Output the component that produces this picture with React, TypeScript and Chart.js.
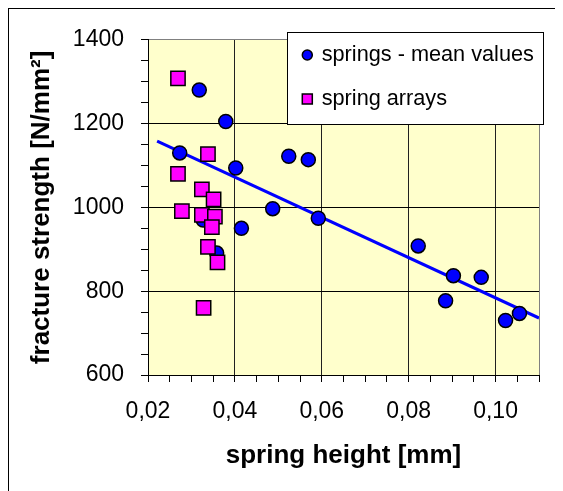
import React, { useEffect, useRef } from 'react';
import { Chart, registerables } from 'chart.js';

Chart.register(...registerables);

// ---- data ----
const meanX = [0.0318, 0.0379, 0.0273, 0.0402, 0.0524, 0.0569, 0.0487, 0.0592, 0.0415, 0.0327, 0.0358, 0.0822, 0.0903, 0.0967, 0.0885, 0.1023, 0.1055];
const meanY = [1280, 1205, 1130, 1094, 1122, 1114, 997, 974, 950, 970, 891, 908, 837, 833, 777, 730, 747];
const arrayX = [0.0269, 0.0338, 0.0269, 0.0324, 0.0351, 0.0278, 0.0324, 0.0354, 0.0347, 0.0338, 0.0360, 0.0328];
const arrayY = [1308, 1127, 1080, 1043, 1019, 991, 982, 978, 953, 906, 869, 760];
const trendX = [0.0221, 0.11];
const trendY = [1158, 736];

const seriesLabels = ['springs - mean values', 'spring arrays'];
const xTitle = 'spring height [mm]';
const yTitle = 'fracture strength [N/mm²]';

const xMin = 0.02, xMax = 0.11, xMajor = 0.02, xMinor = 0.005;
const yMin = 600, yMax = 1400, yMajor = 200, yMinor = 50;

const FONT = "'Liberation Sans', Arial, sans-serif";

const isMajor = (v: number, step: number) => Math.abs(v / step - Math.round(v / step)) < 1e-6;
const near = (a: number, b: number) => Math.abs(a - b) < 1e-9 * Math.max(1, Math.abs(b));

const bgPlugin = {
  id: 'plotBg',
  beforeDraw(chart: any) {
    const { ctx, chartArea: a } = chart;
    ctx.save();
    ctx.fillStyle = '#FFFFCC';
    ctx.fillRect(a.left, a.top, a.right - a.left, a.bottom - a.top);
    ctx.restore();
  },
};

const legendPlugin = {
  id: 'boxLegend',
  afterDraw(chart: any) {
    const ctx = chart.ctx;
    ctx.save();
    const x0 = 278.5, y0 = 23.5, w = 256, h = 92;
    ctx.fillStyle = '#FFFFFF';
    ctx.fillRect(x0, y0, w, h);
    ctx.strokeStyle = '#000000';
    ctx.lineWidth = 1;
    ctx.strokeRect(x0, y0, w, h);
    const mx = 298.3;
    const rows = [46, 90];
    const ds0 = chart.data.datasets[1];
    const ds1 = chart.data.datasets[0];
    // circle marker
    ctx.beginPath();
    ctx.arc(mx, rows[0], 5, 0, Math.PI * 2);
    ctx.fillStyle = ds0.backgroundColor;
    ctx.fill();
    ctx.lineWidth = 1.5;
    ctx.strokeStyle = '#000';
    ctx.stroke();
    // square marker
    ctx.beginPath();
    ctx.rect(mx - 5, rows[1] - 5, 10, 10);
    ctx.fillStyle = ds1.backgroundColor;
    ctx.fill();
    ctx.stroke();
    ctx.fillStyle = '#000';
    ctx.font = `21.7px ${FONT}`;
    ctx.textBaseline = 'middle';
    ctx.textAlign = 'left';
    ctx.fillText(ds0.label, 312.7, rows[0]);
    ctx.fillText(ds1.label, 312.7, rows[1]);
    ctx.restore();
  },
};

export default function App() {
  const ref = useRef<HTMLCanvasElement | null>(null);

  useEffect(() => {
    document.documentElement.style.overflow = 'hidden';
    document.body.style.overflow = 'hidden';
    const canvas = ref.current;
    if (!canvas) return;

    const chart = new Chart(canvas, {
      type: 'scatter',
      data: {
        datasets: [
          {
            label: seriesLabels[1],
            data: arrayX.map((x, i) => ({ x, y: arrayY[i] })),
            backgroundColor: '#FF00FF',
            borderColor: '#000000',
            borderWidth: 1.5,
            pointStyle: 'rect',
            pointRadius: 10.1,
            order: 0,
          },
          {
            label: seriesLabels[0],
            data: meanX.map((x, i) => ({ x, y: meanY[i] })),
            backgroundColor: '#0000FF',
            borderColor: '#000000',
            borderWidth: 1.5,
            pointStyle: 'circle',
            pointRadius: 7,
            order: 1,
          },
          {
            type: 'line',
            label: 'trend',
            data: trendX.map((x, i) => ({ x, y: trendY[i] })),
            borderColor: '#0000FF',
            backgroundColor: '#0000FF',
            borderWidth: 3,
            pointRadius: 0,
            showLine: true,
            fill: false,
            order: 2,
          } as any,
        ],
      },
      options: {
        animation: false,
        responsive: false,
        devicePixelRatio: 1,
        layout: { padding: { top: 22, right: 14, left: 0, bottom: 0 } },
        plugins: {
          legend: { display: false },
          tooltip: { enabled: false },
        },
        scales: {
          x: {
            type: 'linear',
            min: xMin,
            max: xMax,
            afterFit: (s: any) => { s.height = 116; },
            ticks: {
              stepSize: xMinor,
              autoSkip: false,
              maxRotation: 0,
              minRotation: 0,
              padding: 16,
              color: '#000',
              font: { family: FONT, size: 23 },
              callback: (v: any) => (isMajor(Number(v), xMajor) ? Number(v).toFixed(2).replace('.', ',') : ''),
            },
            grid: {
              drawTicks: true,
              tickLength: 7,
              tickColor: '#000',
              lineWidth: 1,
              color: (c: any) => {
                const v = c.tick ? c.tick.value : NaN;
                if (near(v, xMax)) return '#808080';
                return isMajor(v, xMajor) ? '#202020' : 'rgba(0,0,0,0)';
              },
            },
            border: { display: true, color: '#000', width: 1 },
            title: {
              display: true,
              text: xTitle,
              color: '#000',
              font: { family: FONT, size: 26, weight: 'bold' },
              padding: { top: 0, bottom: 20 },
            },
          },
          y: {
            type: 'linear',
            min: yMin,
            max: yMax,
            afterFit: (s: any) => { s.width = 139; },
            ticks: {
              stepSize: yMinor,
              autoSkip: false,
              padding: 17,
              color: '#000',
              font: { family: FONT, size: 23 },
              callback: (v: any) => (isMajor(Number(v), yMajor) ? String(v) : ''),
            },
            grid: {
              drawTicks: true,
              tickLength: 7,
              tickColor: '#000',
              lineWidth: 1,
              color: (c: any) => {
                const v = c.tick ? c.tick.value : NaN;
                if (near(v, yMax)) return '#808080';
                return isMajor(v, yMajor) ? '#000000' : 'rgba(0,0,0,0)';
              },
            },
            border: { display: true, color: '#000', width: 1 },
            title: {
              display: true,
              text: yTitle,
              color: '#000',
              font: { family: FONT, size: 26, weight: 'bold' },
              padding: { top: 17, bottom: 0 },
            },
          },
        },
      } as any,
      plugins: [bgPlugin, legendPlugin],
    });

    return () => chart.destroy();
  }, []);

  return (
    <div style={{ width: 546, height: 482, border: '1px solid #000', background: '#fff' }}>
      <canvas ref={ref} width={546} height={482} style={{ display: 'block' }} />
    </div>
  );
}
